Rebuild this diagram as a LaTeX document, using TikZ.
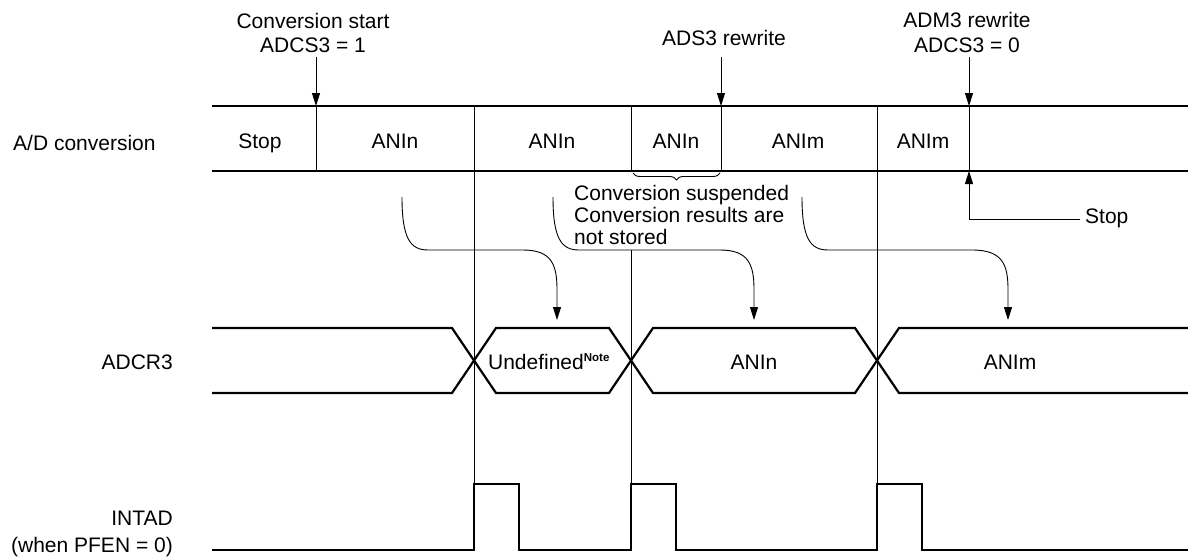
\documentclass[tikz,border=0pt]{standalone}
\usepackage{fontspec}
\setmainfont{Liberation Sans}
\usetikzlibrary{arrows.meta,decorations.pathreplacing}
\begin{document}
\begin{tikzpicture}[x=1pt,y=-1pt,
  thickline/.style={line width=2.2pt,line join=miter},
  thinline/.style={line width=0.9pt},
  arr/.style={thinline,-{Triangle[length=13pt,width=8pt]}},
  lbl/.style={font=\fontsize{21}{24}\selectfont,inner sep=0pt},
  note/.style={font=\fontsize{11.5}{12}\selectfont\bfseries}
]
\useasboundingbox[fill=white] (0,0) rectangle (1188,557);

% ---------- row labels ----------
\node[lbl,anchor=base west] (lad) at (13,150) {A/D conversion};
\node[lbl,anchor=base east] (ladcr) at (173,369) {ADCR3};
\node[lbl,anchor=base east] (lint) at (173,525) {INTAD};
\node[lbl,anchor=base east] (lpfen) at (173,552) {(when PFEN = 0)};

% ---------- A/D conversion row ----------
\coordinate (adTL) at (212,106); \coordinate (adTR) at (1188,106);
\coordinate (adBL) at (212,171); \coordinate (adBR) at (1188,171);
\draw[thickline] (adTL) -- (adTR);
\draw[thickline] (adBL) -- (adBR);

\coordinate (tStart) at (316,106);  \coordinate (bStart) at (316,171);
\coordinate (tA) at (474,106);
\coordinate (tB) at (631,106);      \coordinate (bB) at (631,171);
\coordinate (tAds) at (721,106);    \coordinate (bAds) at (721,171);
\coordinate (tC) at (877,106);
\coordinate (tAdm) at (969,106);    \coordinate (bAdm) at (969,171);

\draw[thinline] (tStart) -- (bStart);
\draw[thinline] (tAds) -- (bAds);
\draw[thinline] (tAdm) -- (bAdm);
\draw[thinline] (tB) -- (bB);
\coordinate (pA) at (474,484);
\coordinate (mB) at (631,250); \coordinate (pB) at (631,484);
\coordinate (pC) at (877,484);
\draw[thinline] (tA) -- (pA);
\draw[thinline] (mB) -- (pB);
\draw[thinline] (tC) -- (pC);

\node[lbl,anchor=base] (c0) at (260,148) {Stop};
\node[lbl,anchor=base] (c1) at (395,148) {ANIn};
\node[lbl,anchor=base] (c2) at (552,148) {ANIn};
\node[lbl,anchor=base] (c3) at (676,148) {ANIn};
\node[lbl,anchor=base] (c4) at (798,148) {ANIm};
\node[lbl,anchor=base] (c5) at (923,148) {ANIm};

% ---------- top annotations ----------
\node[lbl,anchor=base,align=center] (s1) at (313,28) {Conversion start};
\node[lbl,anchor=base] (s2) at (313,52.5) {ADCS3 = 1};
\node[lbl,anchor=base] (r1) at (724,45) {ADS3 rewrite};
\node[lbl,anchor=base] (m1) at (967,27.5) {ADM3 rewrite};
\node[lbl,anchor=base] (m2) at (967,52.5) {ADCS3 = 0};

\coordinate (aS) at (316,57);
\coordinate (aR) at (721,57);
\coordinate (aM) at (969,57);
\draw[arr] (aS) -- (tStart);
\draw[arr] (aR) -- (tAds);
\draw[arr] (aM) -- (tAdm);

% ---------- brace and suspended note ----------
\draw[thinline,decorate,decoration={brace,amplitude=7pt}] (720,173) -- (633,173);
\node[lbl,anchor=base west] (n1) at (574,200.5) {Conversion suspended};
\node[lbl,anchor=base west] (n2) at (574,222.5) {Conversion results are};
\node[lbl,anchor=base west] (n3) at (574,244) {not stored};

% ---------- Stop arrow ----------
\node[lbl,anchor=base west] (stopR) at (1085,223) {Stop};
\coordinate (stopL) at (1080,219);
\draw[arr] (stopL) -| (bAdm);

% ---------- ADCR3 row ----------
\draw[thickline] (212,328) -- (452,328) -- (496,393) -- (609,393) -- (653,328)
  -- (855,328) -- (899,393) -- (1188,393);
\draw[thickline] (212,393) -- (452,393) -- (496,328) -- (609,328) -- (653,393)
  -- (855,393) -- (899,328) -- (1188,328);
\node[lbl,anchor=base] (d1) at (549,369) {Undefined\textsuperscript{\normalfont\bfseries\fontsize{11.5}{12}\selectfont Note}};
\node[lbl,anchor=base] (d2) at (754,369) {ANIn};
\node[lbl,anchor=base] (d3) at (1010,369) {ANIm};

% ---------- curved transfer arrows ----------
\coordinate (k1s) at (402,197); \coordinate (k1e) at (557,320);
\coordinate (k2s) at (553,197); \coordinate (k2e) at (754,320);
\coordinate (k3s) at (802,197); \coordinate (k3e) at (1008,320);
\draw[arr] (k1s) .. controls (402,238) and (410,250) .. (428,250) -- (523,250)
  .. controls (552,250) and (557,265) .. (557,290) -- (k1e);
\draw[arr] (k2s) .. controls (553,238) and (561,250) .. (579,250) -- (720,250)
  .. controls (749,250) and (754,265) .. (754,290) -- (k2e);
\draw[arr] (k3s) .. controls (802,238) and (810,250) .. (828,250) -- (972,250)
  .. controls (1003,250) and (1008,265) .. (1008,290) -- (k3e);

% ---------- INTAD ----------
\draw[thickline] (212,550) -- (474,550) -- (pA) -- (519,484) -- (519,550)
  -- (631,550) -- (pB) -- (676,484) -- (676,550)
  -- (877,550) -- (pC) -- (922,484) -- (922,550) -- (1188,550);
\end{tikzpicture}
\end{document}
